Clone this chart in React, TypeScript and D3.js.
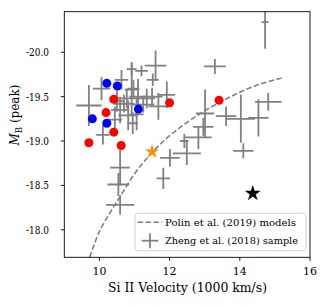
import React from 'react';
import * as d3 from 'd3';

// Zheng et al. (2018) sample: velocity (1000 km/s), peak M_B and their errors
const zhengV = [14.72, 13.29, 14.81, 14.53, 14.03, 13.61, 14.10, 13.01, 12.96, 12.82, 12.42, 12.49, 12.01, 11.82, 10.59, 10.54, 10.59, 10.10, 9.70, 10.06, 10.63, 10.92, 10.92, 11.20, 11.60, 11.52, 10.97, 11.92, 10.78, 11.35, 11.25, 11.68, 10.59, 10.82, 10.44, 11.06, 10.70, 11.50, 11.10, 10.50, 10.95];
const zhengM = [-20.34, -19.84, -19.44, -19.26, -19.25, -19.28, -18.89, -19.31, -19.16, -19.04, -19.0, -18.86, -18.81, -18.58, -18.70, -18.51, -18.28, -19.07, -19.40, -19.59, -19.69, -19.81, -19.58, -19.79, -19.85, -19.69, -19.59, -19.52, -19.48, -19.48, -19.41, -19.39, -19.35, -19.29, -19.24, -19.30, -19.42, -19.50, -19.50, -19.45, -19.20];
const zhengVErr = [0.10, 0.31, 0.38, 0.29, 0.40, 0.29, 0.29, 0.26, 0.29, 0.38, 0.12, 0.40, 0.28, 0.19, 0.28, 0.31, 0.40, 0.19, 0.36, 0.25, 0.19, 0.14, 0.20, 0.18, 0.31, 0.17, 0.17, 0.24, 0.36, 0.24, 0.31, 0.28, 0.26, 0.28, 0.21, 0.20, 0.30, 0.30, 0.25, 0.20, 0.15];
const zhengMErr = [0.30, 0.085, 0.10, 0.21, 0.27, 0.11, 0.085, 0.27, 0.10, 0.13, 0.08, 0.13, 0.10, 0.12, 0.20, 0.13, 0.11, 0.11, 0.23, 0.13, 0.11, 0.08, 0.30, 0.06, 0.17, 0.07, 0.10, 0.15, 0.11, 0.11, 0.09, 0.15, 0.15, 0.17, 0.15, 0.18, 0.10, 0.10, 0.20, 0.12, 0.12];

// Polin et al. (2019) models
const polinV = [9.72, 10.0, 10.3, 10.6, 11.0, 11.5, 12.0, 12.5, 13.0, 13.5, 14.0, 14.5, 15.2];
const polinM = [-17.69, -17.98, -18.19, -18.38, -18.63, -18.87, -19.06, -19.21, -19.34, -19.45, -19.55, -19.63, -19.71];

const redV = [9.70, 10.19, 10.41, 10.41, 10.62, 12.0, 13.41];
const redM = [-18.98, -19.32, -19.47, -19.10, -18.95, -19.43, -19.46];
const blueV = [9.80, 10.21, 10.21, 10.51, 11.11];
const blueM = [-19.25, -19.65, -19.20, -19.62, -19.36];

const orangeStarV = [11.5];
const orangeStarM = [-18.88];
const blackStarV = [14.37];
const blackStarM = [-18.41];

const xTicks = [10, 12, 14, 16];
const yTicks = [-20.0, -19.5, -19.0, -18.5, -18.0];
const yTickLabels = ['-20.0', '-19.5', '-19.0', '-18.5', '-18.0'];

const W = 326;
const H = 305;
const left = 64.3, right = 310, top = 11.7, bottom = 257.3;
const font = "'DejaVu Serif', 'Liberation Serif', serif";
const grey = '#808080';

export default function App() {
  const x = d3.scaleLinear().domain([9, 16]).range([left, right]);
  const y = d3.scaleLinear().domain([-20.457, -17.69]).range([top, bottom]);

  const line = d3
    .line<number>()
    .x((_, i) => x(polinV[i]))
    .y((_, i) => y(polinM[i]))
    .curve(d3.curveMonotoneX);

  const star = d3.symbol().type(d3.symbolStar);

  return (
    <svg width={W} height={H} style={{ position: 'absolute', left: 0, top: 0, fontFamily: font }}>
      <rect width={W} height={H} fill="#fff" />
      <defs>
        <clipPath id="plot">
          <rect x={left} y={top} width={right - left} height={bottom - top} />
        </clipPath>
      </defs>

      <g clipPath="url(#plot)">
        {/* error bar crosses */}
        {zhengV.map((v, i) => (
          <g key={i} stroke={grey} strokeWidth={1.8}>
            <line x1={x(v - zhengVErr[i])} x2={x(v + zhengVErr[i])} y1={y(zhengM[i])} y2={y(zhengM[i])} />
            <line x1={x(v)} x2={x(v)} y1={y(zhengM[i] - zhengMErr[i])} y2={y(zhengM[i] + zhengMErr[i])} />
          </g>
        ))}

        <path d={line(polinV) || ''} fill="none" stroke={grey} strokeWidth={1.6} strokeDasharray="5.5,2.4" />

        {blueV.map((v, i) => (
          <circle key={'b' + i} cx={x(v)} cy={y(blueM[i])} r={4.5} fill="#0000ff" />
        ))}
        {redV.map((v, i) => (
          <circle key={'r' + i} cx={x(v)} cy={y(redM[i])} r={4.5} fill="#ff0000" />
        ))}

        {orangeStarV.map((v, i) => (
          <path key={'o' + i} d={star.size(62)() || ''} transform={`translate(${x(v)},${y(orangeStarM[i])})`} fill="#ff8c00" />
        ))}
        {blackStarV.map((v, i) => (
          <path key={'k' + i} d={star.size(78)() || ''} transform={`translate(${x(v)},${y(blackStarM[i])})`} fill="#000" />
        ))}
      </g>

      {/* frame */}
      <rect x={left} y={top} width={right - left} height={bottom - top} fill="none" stroke="#000" strokeWidth={0.9} />

      {/* x ticks */}
      {xTicks.map(t => (
        <g key={t}>
          <line x1={x(t)} x2={x(t)} y1={bottom} y2={bottom + 3.5} stroke="#000" strokeWidth={0.9} />
          <text x={x(t)} y={275} textAnchor="middle" style={{ fontFamily: font, fontSize: 11 }}>{t}</text>
        </g>
      ))}

      {/* y ticks */}
      {yTicks.map((t, i) => (
        <g key={t}>
          <line x1={left - 3.5} x2={left} y1={y(t)} y2={y(t)} stroke="#000" strokeWidth={0.9} />
          <text x={49} y={y(t) + 4} textAnchor="end" textLength={23} lengthAdjust="spacingAndGlyphs" style={{ fontFamily: font, fontSize: 11 }}>{yTickLabels[i]}</text>
        </g>
      ))}

      <text x={187.5} y={292} textAnchor="middle" textLength={159} lengthAdjust="spacingAndGlyphs" style={{ fontFamily: font, fontSize: 12 }}>
        Si II Velocity (1000 km/s)
      </text>

      <text transform="translate(19,115) rotate(-90)" textAnchor="middle" style={{ fontFamily: font, fontSize: 12 }}>
        <tspan fontStyle="italic">M</tspan>
        <tspan fontSize={8.5} dy={2.5}>B</tspan>
        <tspan dy={-2.5}> (peak)</tspan>
      </text>

      {/* legend */}
      <g>
        <rect x={135} y={213.3} width={171} height={37.4} rx={2.5} fill="#fff" fillOpacity={0.8} stroke="#cccccc" strokeWidth={0.9} />
        <line x1={137.7} x2={162.3} y1={222.3} y2={222.3} stroke={grey} strokeWidth={1.6} strokeDasharray="5.5,2.4" />
        <text x={165} y={225.8} textLength={131} lengthAdjust="spacingAndGlyphs" style={{ fontFamily: font, fontSize: 10 }}>Polin et al. (2019) models</text>
        <line x1={141.7} x2={158.3} y1={240.7} y2={240.7} stroke={grey} strokeWidth={1.8} />
        <line x1={150} x2={150} y1={233.2} y2={248.2} stroke={grey} strokeWidth={1.8} />
        <text x={165} y={244.2} textLength={133} lengthAdjust="spacingAndGlyphs" style={{ fontFamily: font, fontSize: 10 }}>Zheng et al. (2018) sample</text>
      </g>
    </svg>
  );
}
